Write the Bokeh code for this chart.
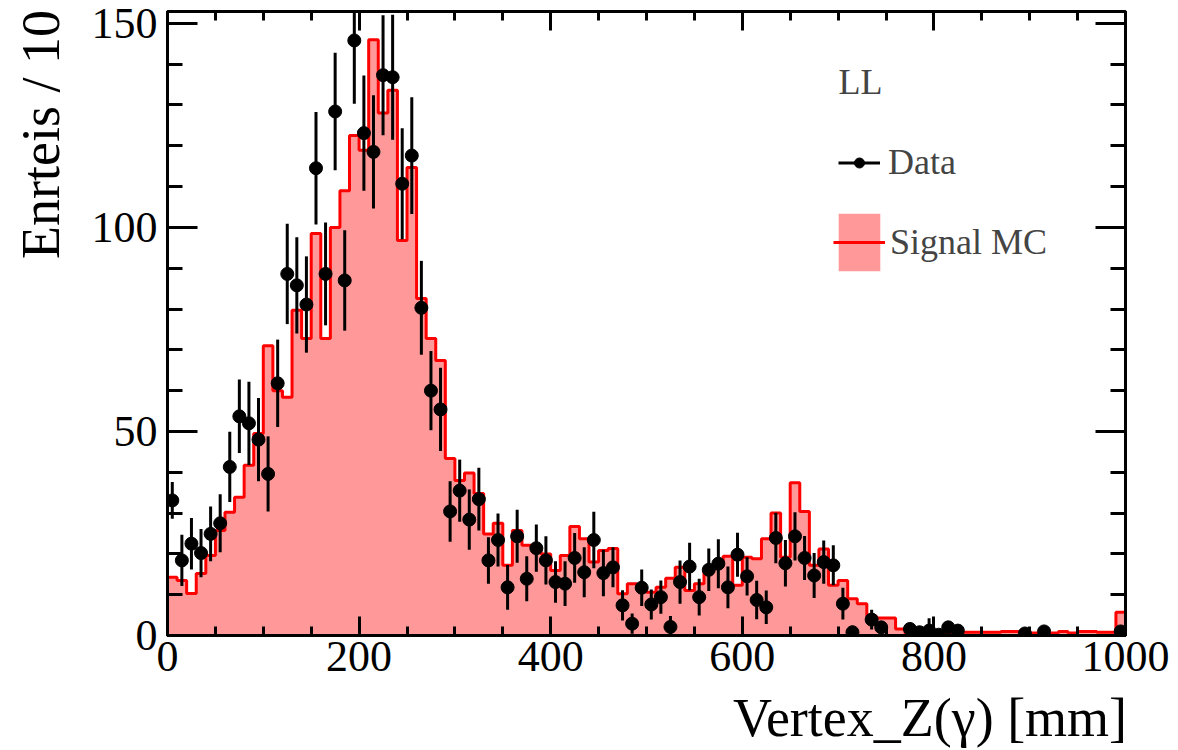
import numpy as np
from bokeh.plotting import figure
from bokeh.models import (Range1d, LinearAxis, SingleIntervalTicker, Label,
                          Legend, LegendItem, ColumnDataSource, CustomJSTickFormatter)
from bokeh.embed import file_html
from bokeh.resources import INLINE

# ---------------- data ----------------
x_min, x_max, bin_width = 0, 1000, 10
y_max = 152.9

x_title = "Vertex_Z(γ) [mm]"
y_title = "Enrteis / 10"
region_label = "LL"
data_label = "Data"
mc_label = "Signal MC"

signal_mc = [
    14.3, 13.5, 10.3, 15.2, 19.6, 25.7, 30.2, 33.9, 41.7, 49.5,
    71.0, 60.0, 58.4, 79.7, 72.8, 98.5, 72.8, 100.0, 109.0, 122.5,
    118.9, 146.0, 128.0, 133.6, 96.8, 114.7, 82.6, 72.8, 67.4, 43.4,
    38.0, 39.8, 34.8, 24.9, 27.5, 17.2, 25.7, 22.1, 21.3, 20.0,
    15.9, 19.6, 26.7, 23.7, 18.0, 20.8, 21.3, 10.2, 12.7, 11.4,
    10.6, 11.8, 14.0, 16.7, 11.0, 12.7, 15.9, 17.2, 19.4, 12.3,
    19.2, 18.8, 23.7, 30.0, 19.2, 37.4, 30.4, 17.2, 21.2, 12.3,
    13.5, 9.0, 7.8, 4.8, 4.3, 4.3, 1.6, 0.4, 0.4, 0.4,
    0.4, 0.4, 0.4, 0.8, 0.8, 0.8, 0.8, 1.0, 1.0, 0.6,
    0.6, 0.6, 0.6, 1.0, 0.6, 1.0, 1.0, 0.8, 0.8, 5.7,
]

nan = float("nan")
data_counts = [
    33.1, 18.4, 22.5, 20.2, 24.9, 27.5, 41.3, 53.7, 52.0, 48.0,
    39.6, 61.8, 88.6, 85.8, 81.1, 114.5, 88.6, 128.4, 87.0, 145.8,
    123.1, 118.5, 137.3, 136.8, 110.7, 117.6, 80.3, 60.0, 55.4, 30.4,
    35.5, 28.4, 33.4, 18.4, 23.4, 11.8, 24.3, 13.9, 21.4, 18.4,
    13.1, 12.7, 19.0, 15.5, 23.4, 15.3, 16.7, 7.4, 2.9, 11.7,
    7.6, 9.4, 2.1, 13.1, 16.9, 9.4, 16.1, 17.6, 11.8, 19.8,
    14.5, 8.7, 6.9, 23.9, 17.7, 24.3, 19.0, 14.7, 18.0, 17.2,
    7.8, 0.8, nan, 3.9, 2.0, nan, nan, 1.6, 0.8, 1.2,
    0.2, 2.0, 1.2, nan, nan, nan, nan, nan, nan, 0.5,
    nan, 1.0, nan, nan, nan, nan, nan, nan, nan, 1.0,
]

data_errors = [
    4.5, 6.3, 6.3, 5.9, 6.7, 7.1, 8.6, 9.0, 10.2, 10.2,
    9.2, 10.7, 12.3, 11.8, 11.8, 13.8, 12.6, 14.4, 12.3, 15.5,
    14.1, 13.9, 14.7, 15.3, 13.6, 14.3, 11.5, 9.7, 10.2, 7.4,
    7.6, 7.4, 7.7, 5.7, 6.5, 5.5, 6.5, 5.5, 5.8, 5.9,
    5.1, 5.5, 6.1, 6.1, 6.9, 5.7, 4.9, 3.7, 2.5, 4.5,
    3.7, 4.1, 2.7, 5.3, 5.8, 4.5, 5.2, 6.0, 5.1, 5.4,
    4.7, 4.7, 4.1, 6.2, 5.7, 5.9, 5.4, 5.5, 5.3, 4.9,
    3.9, 1.6, 0.0, 2.4, 1.5, 0.0, 0.0, 1.5, 1.0, 3.0,
    0.8, 1.5, 1.2, 0.0, 0.0, 0.0, 0.0, 0.0, 0.0, 0.8,
    0.0, 1.0, 0.0, 0.0, 0.0, 0.0, 0.0, 0.0, 0.0, 1.2,
]

# ---------------- derived geometry ----------------
edges = np.arange(x_min, x_max + bin_width, bin_width, dtype=float)
centers = 0.5 * (edges[:-1] + edges[1:])
mc = np.array(signal_mc, dtype=float)

step_x = np.concatenate([[edges[0]], np.repeat(edges, 2)[1:-1], [edges[-1]]])
step_y = np.concatenate([[0.0], np.repeat(mc, 2), [0.0]])

dc = np.array(data_counts, dtype=float)
de = np.array(data_errors, dtype=float)
mask = ~np.isnan(dc)
src = ColumnDataSource(dict(x=centers[mask], y=dc[mask],
                            lo=dc[mask] - de[mask], hi=dc[mask] + de[mask]))

# ---------------- figure ----------------
FONT = "Liberation Serif"
p = figure(width=1178, height=750, output_backend="svg", toolbar_location=None,
           x_range=Range1d(x_min, x_max), y_range=Range1d(0, y_max),
           min_border_left=167, min_border_right=53,
           min_border_top=11, min_border_bottom=115)
p.xgrid.visible = False
p.ygrid.visible = False
p.outline_line_color = "black"
p.outline_line_width = 3
p.background_fill_color = "white"
p.border_fill_color = "white"

xt = SingleIntervalTicker(interval=200, num_minor_ticks=4)
yt = SingleIntervalTicker(interval=50, num_minor_ticks=5)


def style(ax, tin, mtin, labels=True):
    ax.axis_line_color = "black"
    ax.axis_line_width = 3
    ax.major_tick_line_width = 3
    ax.minor_tick_line_width = 3
    ax.major_tick_line_color = "black"
    ax.minor_tick_line_color = "black"
    ax.major_tick_out = 0
    ax.minor_tick_out = 0
    ax.major_tick_in = tin
    ax.minor_tick_in = mtin
    if labels:
        ax.major_label_text_font = FONT
        ax.major_label_text_font_size = "44px"
        ax.major_label_text_color = "black"
    else:
        ax.formatter = CustomJSTickFormatter(code="return ''")
        ax.major_label_text_font_size = "1px"
        ax.major_label_standoff = 0


xb = p.xaxis[0]
xb.ticker = xt
style(xb, 19, 9)
xb.major_label_standoff = 6
yl = p.yaxis[0]
yl.ticker = yt
style(yl, 30, 15)
yl.major_label_standoff = 10

xtop = LinearAxis(ticker=xt)
style(xtop, 19, 9, labels=False)
p.add_layout(xtop, "above")
yr = LinearAxis(ticker=yt)
style(yr, 30, 15, labels=False)
p.add_layout(yr, "right")

# ---------------- glyphs ----------------
mc_fill = p.patch(step_x, step_y, fill_color="#ff9999", line_color=None)
mc_line = p.line(step_x, step_y, line_color="#ff0000", line_width=3)
err = p.segment(x0="x", y0="lo", x1="x", y1="hi", source=src,
                line_color="black", line_width=3)
pts = p.scatter(x="x", y="y", source=src, size=13, marker="circle",
                fill_color="black", line_color="black")

# ---------------- legend ----------------
leg_common = dict(label_text_font=FONT, label_text_font_size="36px",
                  padding=0, margin=0, spacing=0,
                  border_line_color=None, background_fill_alpha=0)
leg1 = Legend(items=[LegendItem(label=data_label, renderers=[err, pts])],
              location=(671, 452), glyph_width=42, glyph_height=25,
              label_standoff=8, **leg_common)
leg2 = Legend(items=[LegendItem(label=mc_label, renderers=[mc_fill, mc_line])],
              location=(666, 357), glyph_width=52, glyph_height=72,
              label_standoff=5, **leg_common)
p.add_layout(leg1)
p.add_layout(leg2)

p.add_layout(Label(x=671, y=554, x_units="screen", y_units="screen", text=region_label,
                   text_font=FONT, text_font_size="36px", text_baseline="alphabetic"))

# ---------------- axis titles (ROOT style: flush to the axis end) ----------------
# the centred axis label is pushed to the axis end with leading no-break spaces
NBSP = "\u00a0"
xb.axis_label = NBSP * 42 + x_title
xb.axis_label_text_font = FONT
xb.axis_label_text_font_size = "54px"
xb.axis_label_text_font_style = "normal"
xb.axis_label_text_color = "black"
xb.axis_label_standoff = 14
xb.axis_label_align = "center"

yl.axis_label = NBSP * 28 + y_title
yl.axis_label_text_font = FONT
yl.axis_label_text_font_size = "54px"
yl.axis_label_text_font_style = "normal"
yl.axis_label_text_color = "black"
yl.axis_label_standoff = 18
yl.axis_label_align = "center"

open("out.html", "w").write(file_html(p, INLINE))
